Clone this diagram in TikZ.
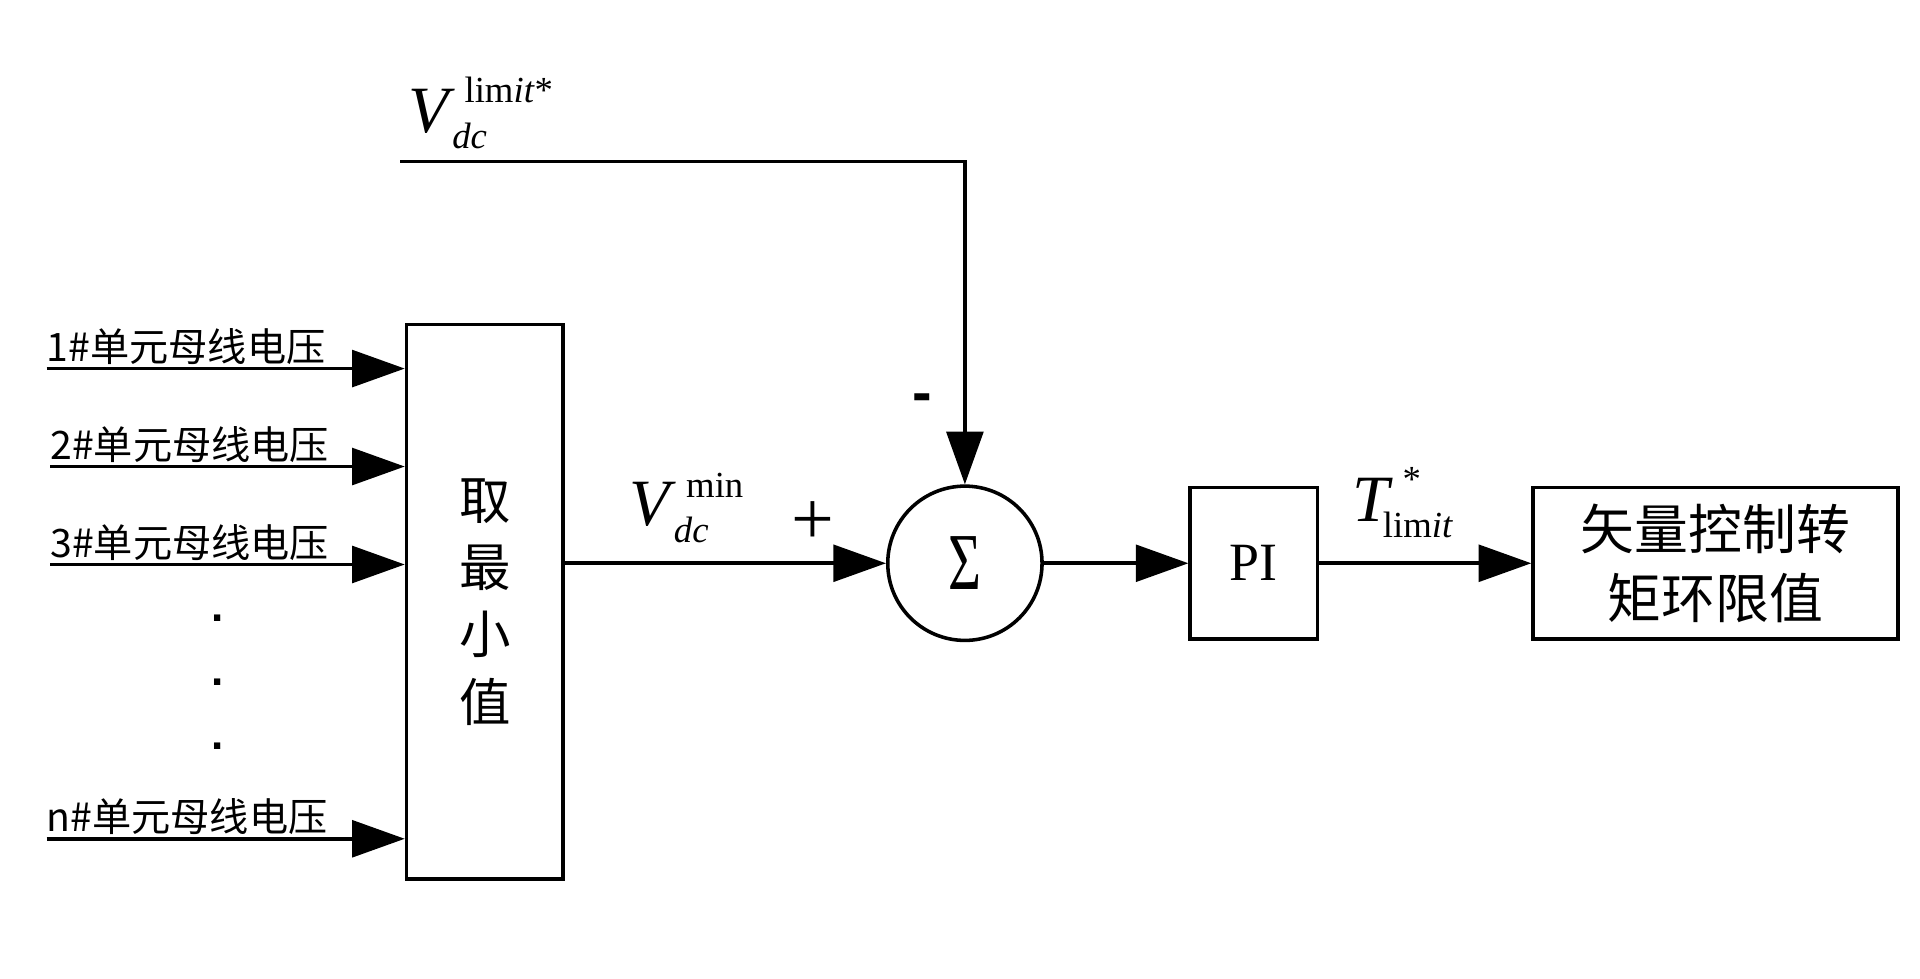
\documentclass[tikz,border=0pt]{standalone}
\usepackage{fontspec}
\usepackage{graphicx}
\setmainfont{Liberation Serif}
\newfontfamily\cjk{Noto Sans CJK SC}
\newfontfamily\sansb{Liberation Sans}
\usetikzlibrary{arrows.meta}
\newcommand\fsz[1]{\fontsize{#1}{#1}\selectfont}
\begin{document}
\begin{tikzpicture}[x=1pt,y=-1pt,
  wire/.style={line width=2.9pt},
  arr/.style={wire,-{Triangle[length=43pt,width=30pt]}},
  blk/.style={draw,line width=2.9pt,inner sep=0pt},
  lbl/.style={font=\cjk\fsz{32},anchor=base west,inner sep=0pt},
  sym/.style={anchor=base west,inner sep=0pt},
  dotmark/.style={font=\sansb\bfseries\fsz{36},inner sep=0pt}]
\useasboundingbox (0,0) rectangle (1568,799);
% blocks
\node[blk,minimum width=128pt,minimum height=453pt,align=center,
      font=\cjk\fontsize{42}{55}\selectfont] (mn) at (396,491.5) {取\\最\\小\\值};
\node[blk,circle,minimum size=126pt] (sum) at (788,460)
      {\fsz{66}\scalebox{0.7}[1]{Σ}};
\node[blk,minimum width=104pt,minimum height=124pt,font=\fsz{44}] (pi) at (1024,460) {PI};
\node[blk,minimum width=298pt,minimum height=124pt,align=center,
      font=\cjk\fontsize{44}{56}\selectfont] (out) at (1401,460) {矢量控制转\\矩环限值};
% inputs
\coordinate (s1) at (38,301);
\coordinate (s2) at (41,381);
\coordinate (s3) at (41,461);
\coordinate (s4) at (38,685);
\draw[arr] (s1) -- (s1 -| mn.west);
\draw[arr] (s2) -- (s2 -| mn.west);
\draw[arr] (s3) -- (s3 -| mn.west);
\draw[arr] (s4) -- (s4 -| mn.west);
\node[lbl] (l1) at (38,295) {1\#单元母线电压};
\node[lbl] (l2) at (41,375) {2\#单元母线电压};
\node[lbl] (l3) at (41,455) {3\#单元母线电压};
\node[lbl] (l4) at (38,679) {n\#单元母线电压};
\node[dotmark] (d1) at (178,505) {.};
\node[dotmark] (d2) at (178,557) {.};
\node[dotmark] (d3) at (178,609) {.};
% reference line
\coordinate (vl) at (327,132);
\draw[arr] (vl) -| (sum.north);
\node[font=\sansb\bfseries\fsz{48},inner sep=0pt] (minus) at (753,329) {-};
\node[font=\fsz{62},inner sep=0pt] (plus) at (663.5,427) {+};
% main path
\draw[arr] (mn.east |- sum) -- (sum.west);
\draw[arr] (sum.east) -- (pi.west);
\draw[arr] (pi.east) -- (out.west);
% symbols
\node[sym] (vlim) at (333,108) {\fsz{54}\textit{V}\rlap{\kern8pt\raisebox{24pt}{\fsz{30}lim\textit{it}*}}\kern-2pt\raisebox{-13pt}{\fsz{30}\textit{dc}}};
\node[sym] (vmin) at (514,429) {\fsz{54}\textit{V}\rlap{\kern8pt\raisebox{23pt}{\fsz{30}min}}\kern-2pt\raisebox{-14pt}{\fsz{30}\textit{dc}}};
\node[sym] (tlim) at (1104,426) {\fsz{54}\textit{T}\rlap{\kern8pt\raisebox{25pt}{\fsz{30}*}}\kern-8pt\raisebox{-13pt}{\fsz{30}lim\textit{it}}};
\end{tikzpicture}
\end{document}
